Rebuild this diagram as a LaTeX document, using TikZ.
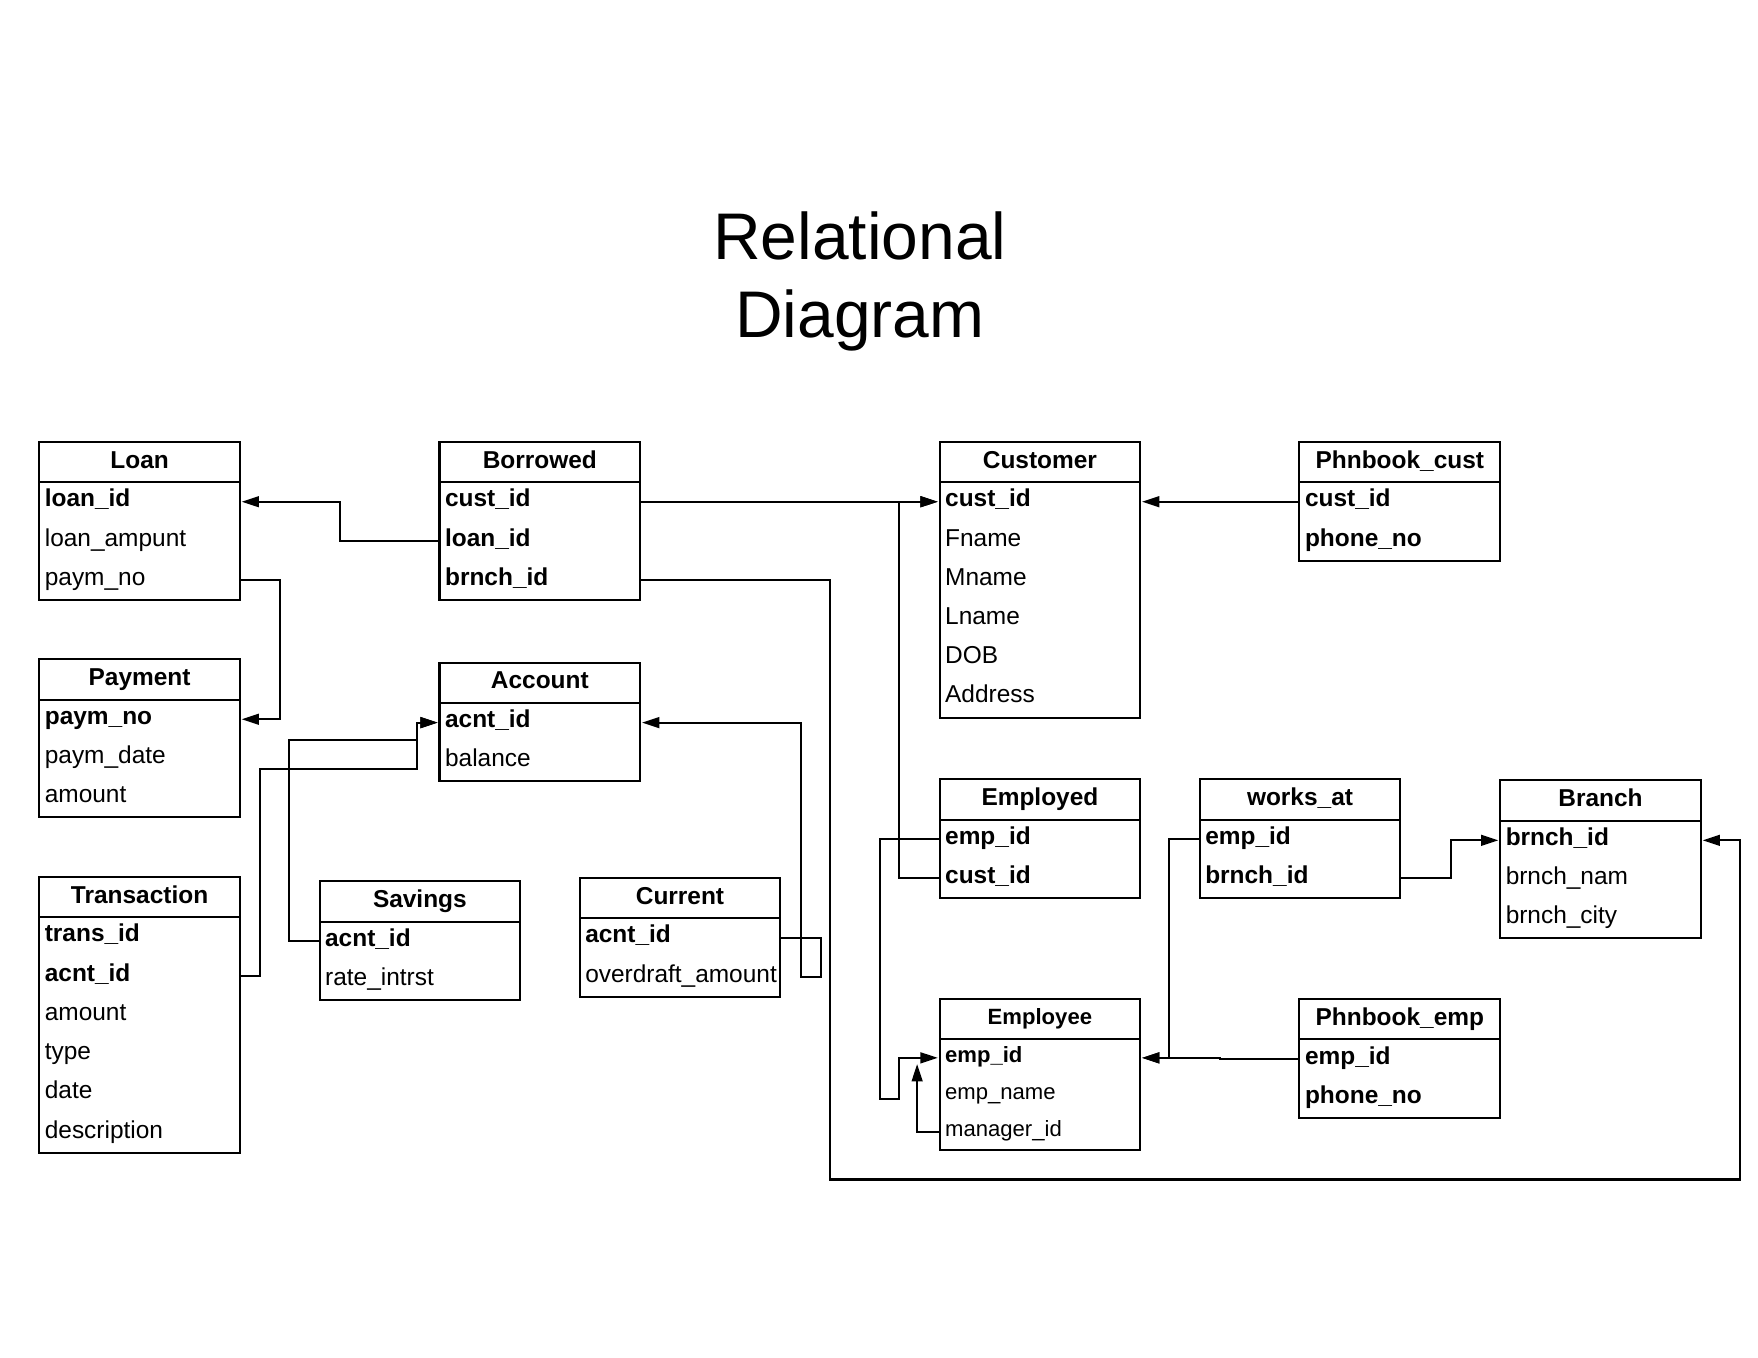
\documentclass[tikz,border=0pt]{standalone}
\usepackage{fontspec}
\setmainfont{Liberation Sans}
\usetikzlibrary{arrows.meta,positioning,calc}
\tikzset{
  tblhead/.style={draw=black, line width=0.9pt, outer sep=0pt, inner sep=0pt, anchor=north west, minimum width=89.5pt, minimum height=18pt, text height=8.2pt, text depth=2.7pt, font=\fontsize{10.9}{13}\selectfont\bfseries},
  tblbody/.style={draw=black, line width=0.9pt},
  attr/.style={outer sep=0pt, inner ysep=0pt, inner xsep=2.5pt, text width=84.5pt, align=left, minimum height=17.5pt, text height=7.2pt, text depth=2.7pt, font=\fontsize{10.9}{13}\selectfont},
  keyattr/.style={attr, font=\fontsize{10.9}{13}\selectfont\bfseries},
  smallhead/.style={tblhead, text height=7.4pt, text depth=2.5pt, font=\fontsize{9.85}{12}\selectfont\bfseries},
  smallattr/.style={attr, minimum height=16.5pt, text height=6.8pt, text depth=2.5pt, font=\fontsize{9.85}{12}\selectfont},
  smallkey/.style={smallattr, font=\fontsize{9.85}{12}\selectfont\bfseries},
  arrow/.style={-{Triangle[length=7.7pt,width=4.8pt]}, line width=0.9pt, shorten >=0.8pt}
}
\begin{document}
\begin{tikzpicture}[x=0.5pt,y=-0.5pt]
\useasboundingbox (0,0) rectangle (1568,1211);

\node[font=\fontsize{29.4}{35}\selectfont, align=center] (title) at (767,251) {Relational\\Diagram};

\node[tblhead] (loan) at (35,394) {Loan};
\node[keyattr, below=0pt of loan] (loan1) {loan\_id};
\node[attr, below=0pt of loan1] (loan2) {loan\_ampunt};
\node[attr, below=0pt of loan2] (loan3) {paym\_no};
\draw[tblbody] (loan.south west) rectangle (loan3.south east);

\node[tblhead] (pay) at (35,588) {Payment};
\node[keyattr, below=0pt of pay] (pay1) {paym\_no};
\node[attr, below=0pt of pay1] (pay2) {paym\_date};
\node[attr, below=0pt of pay2] (pay3) {amount};
\draw[tblbody] (pay.south west) rectangle (pay3.south east);

\node[tblhead] (tr) at (35,782) {Transaction};
\node[keyattr, below=0pt of tr] (tr1) {trans\_id};
\node[keyattr, below=0pt of tr1] (tr2) {acnt\_id};
\node[attr, below=0pt of tr2] (tr3) {amount};
\node[attr, below=0pt of tr3] (tr4) {type};
\node[attr, below=0pt of tr4] (tr5) {date};
\node[attr, below=0pt of tr5] (tr6) {description};
\draw[tblbody] (tr.south west) rectangle (tr6.south east);

\node[tblhead] (bor) at (392,394) {Borrowed};
\node[keyattr, below=0pt of bor] (bor1) {cust\_id};
\node[keyattr, below=0pt of bor1] (bor2) {loan\_id};
\node[keyattr, below=0pt of bor2] (bor3) {brnch\_id};
\draw[tblbody] (bor.south west) rectangle (bor3.south east);

\node[tblhead] (acc) at (392,591) {Account};
\node[keyattr, below=0pt of acc] (acc1) {acnt\_id};
\node[attr, below=0pt of acc1] (acc2) {balance};
\draw[tblbody] (acc.south west) rectangle (acc2.south east);

\node[tblhead] (sav) at (285,786) {Savings};
\node[keyattr, below=0pt of sav] (sav1) {acnt\_id};
\node[attr, below=0pt of sav1] (sav2) {rate\_intrst};
\draw[tblbody] (sav.south west) rectangle (sav2.south east);

\node[tblhead] (cur) at (517,783) {Current};
\node[keyattr, below=0pt of cur] (cur1) {acnt\_id};
\node[attr, below=0pt of cur1] (cur2) {overdraft\_amount};
\draw[tblbody] (cur.south west) rectangle (cur2.south east);

\node[tblhead] (cus) at (838,394) {Customer};
\node[keyattr, below=0pt of cus] (cus1) {cust\_id};
\node[attr, below=0pt of cus1] (cus2) {Fname};
\node[attr, below=0pt of cus2] (cus3) {Mname};
\node[attr, below=0pt of cus3] (cus4) {Lname};
\node[attr, below=0pt of cus4] (cus5) {DOB};
\node[attr, below=0pt of cus5] (cus6) {Address};
\draw[tblbody] (cus.south west) rectangle (cus6.south east);

\node[tblhead] (pc) at (1159,394) {Phnbook\_cust};
\node[keyattr, below=0pt of pc] (pc1) {cust\_id};
\node[keyattr, below=0pt of pc1] (pc2) {phone\_no};
\draw[tblbody] (pc.south west) rectangle (pc2.south east);

\node[tblhead] (ed) at (838,695) {Employed};
\node[keyattr, below=0pt of ed] (ed1) {emp\_id};
\node[keyattr, below=0pt of ed1] (ed2) {cust\_id};
\draw[tblbody] (ed.south west) rectangle (ed2.south east);

\node[tblhead] (wa) at (1070,695) {works\_at};
\node[keyattr, below=0pt of wa] (wa1) {emp\_id};
\node[keyattr, below=0pt of wa1] (wa2) {brnch\_id};
\draw[tblbody] (wa.south west) rectangle (wa2.south east);

\node[tblhead] (br) at (1338,696) {Branch};
\node[keyattr, below=0pt of br] (br1) {brnch\_id};
\node[attr, below=0pt of br1] (br2) {brnch\_nam};
\node[attr, below=0pt of br2] (br3) {brnch\_city};
\draw[tblbody] (br.south west) rectangle (br3.south east);

\node[smallhead] (emp) at (838,891) {Employee};
\node[smallkey, below=0pt of emp] (emp1) {emp\_id};
\node[smallattr, below=0pt of emp1] (emp2) {emp\_name};
\node[smallattr, below=0pt of emp2] (emp3) {manager\_id};
\draw[tblbody] (emp.south west) rectangle (emp3.south east);

\node[tblhead] (pe) at (1159,891) {Phnbook\_emp};
\node[keyattr, below=0pt of pe] (pe1) {emp\_id};
\node[keyattr, below=0pt of pe1] (pe2) {phone\_no};
\draw[tblbody] (pe.south west) rectangle (pe2.south east);

\coordinate (corner) at (1552,1052);
\coordinate (trbend) at (372,686);
\coordinate (savbend) at (372,660);
\coordinate (mgrtip) at ($(emp1.west)+(-20,4)$);

\draw[arrow] (bor2.west) -- ++(-89,0) |- (loan1.east);
\draw[arrow] (loan3.east) -- ++(36,0) |- (pay1.east);
\draw[arrow] (bor1.east) -- (cus1.west);
\draw[arrow] (bor3.east) -- ++(169,0) |- (corner) |- (br1.east);
\draw[arrow] (pc1.west) -- (cus1.east);
\draw[arrow] (tr2.east) -- ++(18,0) |- (trbend) |- (acc1.west);
\draw[arrow] (sav1.west) -- ++(-27,0) |- (savbend) |- (acc1.west);
\draw[arrow] (cur1.east) -- ++(36,0) -- ++(0,35) -- ++(-18,0) |- (acc1.east);
\draw[arrow] (ed2.west) -- ++(-36,0) |- (cus1.west);
\draw[arrow] (ed1.west) -- ++(-53,0) -- ++(0,231.5) -- ++(17,0) |- (emp1.west);
\draw[arrow] (emp3.west) -| (mgrtip);
\draw[arrow] (wa1.west) -- ++(-27,0) |- (emp1.east);
\draw[arrow] (pe1.west) -- ++(-71,0) |- (emp1.east);
\draw[arrow] (wa2.east) -- ++(45,0) |- (br1.west);
\end{tikzpicture}
\end{document}
